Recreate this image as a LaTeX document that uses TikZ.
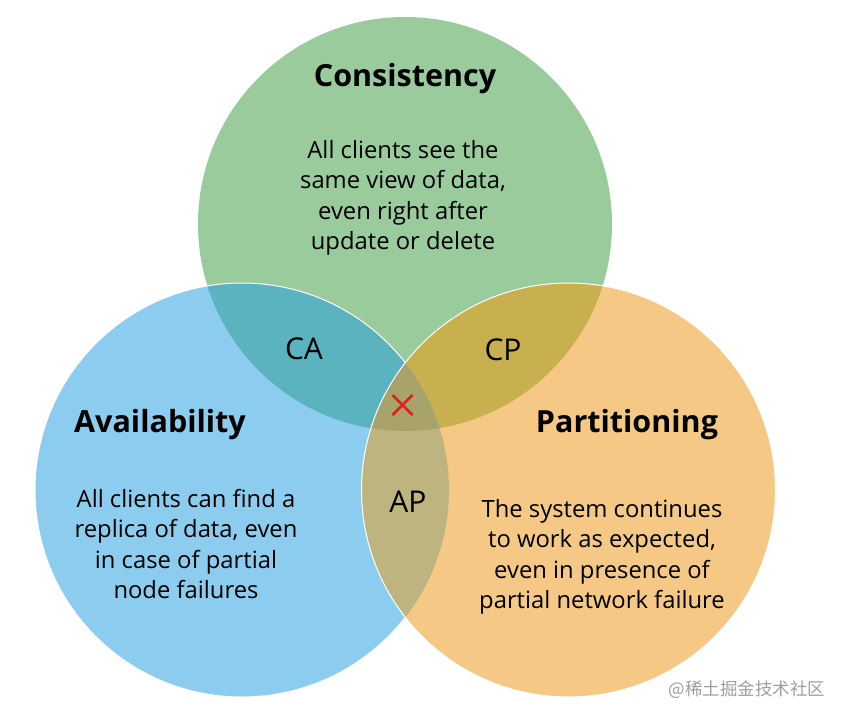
\documentclass[tikz,border=0pt]{standalone}
\usepackage{fontspec}
\setmainfont{Open Sans}
\newfontfamily\cjk{Noto Sans CJK SC}
\definecolor{cgreen}{HTML}{9ACB9C}
\definecolor{cblue}{HTML}{8CCDEF}
\definecolor{corange}{HTML}{F5C985}
\definecolor{caolap}{HTML}{5AB3BE}
\definecolor{cpolap}{HTML}{C8B04F}
\definecolor{apolap}{HTML}{BEB480}
\definecolor{centerolap}{HTML}{A8A36B}
\definecolor{cmark}{HTML}{E0201B}
\begin{document}
\begin{tikzpicture}[x=1pt,y=-1pt,
  title/.style={font=\fontsize{30.5}{34}\selectfont\bfseries, inner sep=0pt},
  body/.style={font=\fontsize{23.8}{30.5}\selectfont, align=center, inner sep=0pt},
  region/.style={font=\fontsize{30}{32}\selectfont, inner sep=0pt},
  edgeline/.style={draw=white, line width=1pt}]
\fill[white] (0,0) rectangle (846,720);
\useasboundingbox (0,0) rectangle (846,720);
\coordinate (cG) at (405,224);
\coordinate (cB) at (242,490);
\coordinate (cO) at (568.5,490);
% green and blue
\fill[cgreen] (cG) circle[radius=207pt];
\fill[cblue] (cB) circle[radius=207pt];
\begin{scope}
  \clip (cG) circle[radius=207pt];
  \fill[caolap] (cB) circle[radius=207pt];
\end{scope}
\draw[edgeline] (cB) circle[radius=207pt];
% orange and its overlaps
\fill[corange] (cO) circle[radius=207pt];
\begin{scope}
  \clip (cO) circle[radius=207pt];
  \fill[cpolap] (cG) circle[radius=207pt];
  \fill[apolap] (cB) circle[radius=207pt];
  \clip (cB) circle[radius=207pt];
  \fill[centerolap] (cG) circle[radius=207pt];
\end{scope}
\draw[edgeline] (cO) circle[radius=207pt];
% texts
\node[title] (tC) at (405,79) {Consistency};
\node[body] (bC) at (403,198) {All clients see the\\same view of data,\\even right after\\update or delete};
\node[title] (tA) at (160,425) {Availability};
\node[body] (bA) at (186,544) {All clients can find a\\replica of data, even\\in case of partial\\node failures};
\node[title] (tP) at (627,425) {Partitioning};
\node[body] (bP) at (602,557) {The system continues\\to work as expected,\\even in presence of\\partial network failure};
\node[region] (rCA) at (304,349) {CA};
\node[region] (rCP) at (503,350) {CP};
\node[region] (rAP) at (408,502) {AP};
% red cross
\coordinate (xc) at (402.5,405);
\draw[cmark, line width=2.6pt] ([shift={(-10,-10)}]xc) -- ([shift={(10,10)}]xc)
  ([shift={(-10,10)}]xc) -- ([shift={(10,-10)}]xc);
% watermark
\node[font=\cjk\fontsize{17.5}{19}\selectfont, text=gray!75, inner sep=0pt] (wm) at (747,690) {@稀土掘金技术社区};
\end{tikzpicture}
\end{document}
